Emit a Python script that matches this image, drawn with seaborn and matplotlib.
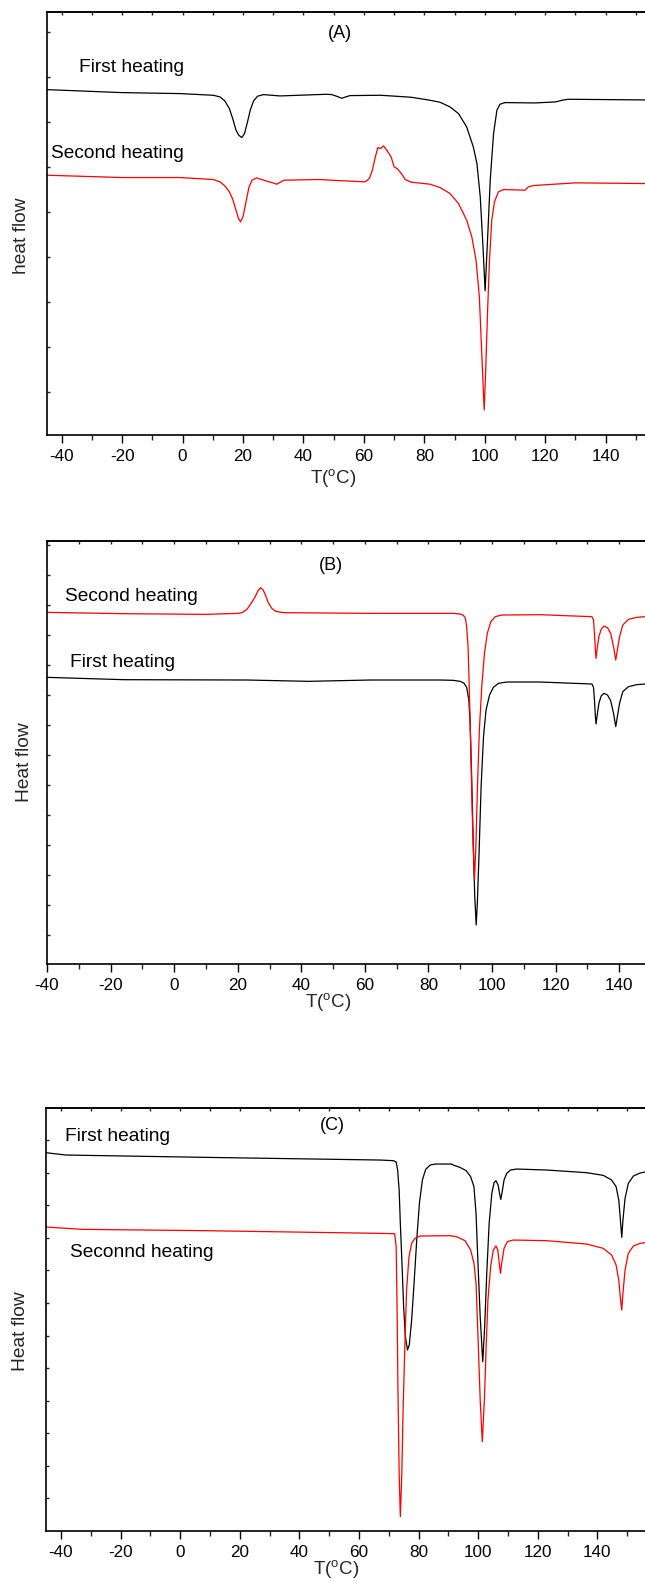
import seaborn as sns
import matplotlib.pyplot as plt
import pandas as pd
from matplotlib.ticker import MultipleLocator, FixedLocator, NullFormatter

# ---- Panel A ----
a_first_t = [-45, -20, -0.8, 10.2, 12.4, 14.0, 15.5, 16.6, 17.7, 18.6, 19.6, 20.5, 21.5, 22.4, 23.5, 24.8,
             26.8, 32.3, 47.7, 49.4, 51.0, 52.7, 54.0, 55.4, 65.4, 69, 75.7, 81.9, 85.2, 88.5, 91.3, 94.0,
             96.2, 97.4, 98.5, 99.4, 100.1, 100.9, 101.8, 102.9, 104.0, 105.0, 106.7, 116.6, 123.4, 125.5,
             127.5, 153]
a_first_hf = [103.7, 102.8, 102.5, 102.0, 101.5, 100.3, 98.0, 95.0, 91.5, 90.0, 89.3, 90.5, 94.0, 97.5, 100.3, 101.7,
              102.2, 101.8, 102.3, 102.2, 101.7, 101.1, 101.5, 101.9, 102.0, 101.8, 101.4, 100.5, 99.9, 98.5, 96.5, 92.5,
              86.5, 81.5, 71.5, 56.5, 43.3, 58.5, 76.5, 90.5, 97.5, 99.3, 99.8, 99.7, 100.0, 100.5,
              100.8, 100.6]
a_second_t = [-45, -20, -0.8, 10.2, 12.4, 14.0, 15.5, 16.6, 17.7, 18.5, 19.2, 20.0, 21.0, 22.0, 23.0, 24.5,
              26.5, 29.5, 31.2, 33.5, 45, 60.4, 61.8, 62.8, 63.8, 64.6, 65.5, 66.5, 67.6, 69, 70, 71, 72.4,
              73.7, 75.7, 81.9, 85.2, 88.5, 91.3, 94.0, 95.7, 97.1, 98.2, 98.9, 99.8, 100.3, 100.9, 101.5,
              102.3, 103.2, 104.5, 106.2, 113.3, 114.4, 116.1, 130, 153]
a_second_hf = [78.0, 77.3, 77.3, 76.7, 76.0, 74.8, 73.0, 70.8, 67.5, 65.0, 64.0, 65.5, 70.0, 74.5, 76.5, 77.2,
               76.6, 75.8, 75.3, 76.5, 76.7, 76.0, 77.0, 79.5, 83.5, 86.3, 86.0, 86.8, 85.5, 83.5, 80.5, 80.0, 78.5,
               76.7, 75.9, 75.3, 74.3, 72.5, 69.5, 64.5, 59.5, 52.5, 41.5, 26.5, 7.5, 19.5, 36.5, 51.5,
               64.5, 70.0, 73.0, 73.7, 73.5, 74.5, 74.9, 75.7, 75.5]

# ---- Panel B ----
b_first_t = [-40, -15.9, 22.9, 42.3, 61.7, 83.65, 87.8, 90.0, 91.2, 92.0, 92.7, 93.1, 93.6, 94.1, 94.55, 95.0,
             95.4, 95.9, 96.55, 97.3, 98.1, 99.2, 100.4, 102.0, 104.6, 115.1, 131.4, 131.9, 132.2, 132.5,
             132.7, 133.0, 133.6, 134.3, 135.2, 136.3, 137.3, 138.2, 138.9, 139.4, 140.1, 141.1, 142.9,
             145.5, 148.1]
b_first_hf = [86.1, 85.4, 85.3, 84.9, 85.3, 85.3, 85.2, 84.9, 84.3, 83.1, 79.3, 72.3, 55.3, 35.3, 20.3, 11.8,
              19.3, 33.3, 53.3, 68.3, 76.3, 80.8, 83.1, 84.3, 84.7, 84.7, 84.1, 83.1, 79.3, 74.3,
              72.1, 74.3, 78.3, 80.5, 81.3, 80.8, 79.1, 75.3, 71.3, 74.3, 78.3, 81.8, 83.3,
              83.9, 84.1]
b_second_t = [-40, -15.9, 10, 20.3, 21.5, 22.9, 24.2, 25.5, 26.3, 27.2, 28.0, 28.7, 29.6, 30.7, 32.0, 34.5,
              61.7, 83.65, 87.8, 90.0, 91.0, 91.6, 92.0, 92.45, 92.9, 93.4, 93.9, 94.45, 94.9, 95.4, 96.0,
              96.75, 97.6, 98.5, 99.6, 101.0, 103.0, 115.1, 131.4, 131.9, 132.2, 132.5, 132.7, 133.0, 133.6,
              134.3, 135.2, 136.3, 137.3, 138.2, 138.9, 139.4, 140.1, 141.1, 142.9, 145.5, 148.1]
b_second_hf = [105.6, 105.2, 105.0, 105.3, 105.6, 106.5, 108.3, 110.3, 112.0, 113.0, 112.3, 110.8, 108.5, 106.8, 105.9, 105.5,
               105.3, 105.3, 105.3, 105.1, 104.7, 103.8, 101.3, 95.3, 80.3, 60.3, 40.3, 25.3, 35.3, 53.3, 70.3,
               83.3, 93.3, 99.3, 102.8, 104.3, 104.8, 104.9, 104.3, 103.3, 99.3, 94.3, 91.8, 94.3, 98.3,
               100.5, 101.5, 101.0, 99.3, 95.3, 91.3, 94.3, 98.3, 101.8, 103.5, 104.1, 104.3]

# ---- Panel C ----
c_first_t = [-45, -38.3, 8.6, 67.1, 71.6, 72.5, 73.0, 73.5, 73.9, 74.5, 75.0, 75.6, 76.3, 76.9, 77.7, 78.5,
             79.4, 80.3, 81.3, 82.4, 83.9, 85.6, 91.1, 91.9, 93.9, 96.0, 97.5, 98.6, 99.3, 100.0, 100.7,
             101.55, 102.2, 102.9, 103.7, 104.6, 105.35, 106.0, 106.7, 107.3, 107.6, 108.0, 108.7, 109.6,
             110.9, 112.96, 123.0, 136.4, 142.0, 144.8, 146.3, 147.2, 147.75, 148.2, 148.6, 149.3, 150.4,
             152.1, 154.35, 156.0]
c_first_hf = [113.5, 112.8, 112.1, 111.3, 111.1, 110.7, 108.3, 102.3, 92.3, 79.3, 67.3, 58.3, 54.3, 55.8, 63.3, 74.3,
              87.3, 98.3, 105.3, 108.5, 109.8, 110.1, 110.1, 109.7, 109.1, 108.1, 106.3, 103.3, 95.3, 79.3, 64.3,
              50.8, 61.3, 77.3, 92.3, 101.3, 104.5, 105.1, 103.8, 100.8, 99.5, 101.3, 105.3, 107.3,
              108.3, 108.6, 108.3, 107.5, 106.7, 105.3, 103.3, 99.3, 93.3, 88.1, 93.3, 99.8, 104.3,
              106.5, 107.4, 107.7]
c_second_t = [-45, -32.8, 8.6, 67.1, 72.0, 72.5, 72.8, 73.1, 73.5, 73.9, 74.4, 74.8, 75.4, 76.0, 76.8, 77.7,
              78.8, 80.5, 90.6, 92.8, 95.6, 97.5, 98.6, 99.3, 100.0, 100.7, 101.4, 102.1, 102.7, 103.3, 104.2,
              105.1, 106.0, 106.6, 107.1, 107.5, 107.9, 108.7, 109.8, 111.8, 123.0, 136.4, 142.0, 144.8,
              146.3, 147.2, 147.75, 148.2, 148.6, 149.3, 150.4, 152.1, 154.35, 156.0]
c_second_hf = [91.2, 90.5, 90.1, 89.3, 89.2, 85.3, 67.3, 42.3, 17.3, 4.3, 17.3, 35.3, 55.3, 72.3, 82.3, 86.3,
               87.8, 88.5, 88.6, 88.3, 87.1, 84.3, 80.3, 74.3, 57.3, 39.3, 26.8, 39.3, 55.3, 69.3, 79.3,
               84.3, 85.5, 84.3, 80.3, 77.3, 80.3, 84.8, 86.8, 87.3, 87.1, 86.1, 84.8, 82.8,
               79.8, 75.3, 69.8, 66.3, 71.3, 78.3, 83.3, 85.5, 86.3, 86.5]

sns.set_style("ticks")
plt.rcParams['font.family'] = ['Liberation Sans', 'DejaVu Sans']
plt.rcParams['mathtext.fontset'] = 'custom'
plt.rcParams['mathtext.rm'] = 'Liberation Sans'
plt.rcParams['axes.unicode_minus'] = False

W, H = 645, 1582
fig = plt.figure(figsize=(W / 100, H / 100), dpi=100)


def fx(x):
    return x / W


def fy(y):
    return 1 - y / H


def draw_panel(top, bottom, left, xlim, ylim, ytick0, ytick_step, first, second, ylabel,
               ylab_xy, xlab_xy):
    ax = fig.add_axes([fx(left), fy(bottom), 1 - fx(left), (bottom - top) / H])
    df = pd.concat([
        pd.DataFrame({'T': first[0], 'hf': first[1], 'run': 'First heating'}),
        pd.DataFrame({'T': second[0], 'hf': second[1], 'run': 'Second heating'}),
    ])
    sns.lineplot(data=df, x='T', y='hf', hue='run', palette=['#000000', '#ff0000'],
                 estimator=None, sort=False, linewidth=0.9, legend=False, ax=ax)
    ax.set_xlim(*xlim)
    ax.set_ylim(*ylim)
    for s in ['left', 'bottom', 'top']:
        ax.spines[s].set_linewidth(1.2)
        ax.spines[s].set_color('black')
    ax.spines['right'].set_visible(False)

    ax.xaxis.set_major_locator(MultipleLocator(20))
    ax.xaxis.set_minor_locator(MultipleLocator(10))
    ax.tick_params(axis='x', which='major', direction='out', length=6, width=1.0, pad=4.0,
                   labelsize=12.3, colors='black')
    ax.tick_params(axis='x', which='minor', direction='out', length=3.6, width=1.0)
    yt = [ytick0 + ytick_step * k for k in range(20) if ytick0 + ytick_step * k < ylim[1] - 1]
    ax.yaxis.set_major_locator(FixedLocator(yt))
    ax.yaxis.set_major_formatter(NullFormatter())
    ax.tick_params(axis='y', which='major', direction='in', length=2.5, width=1.0)

    sec = ax.secondary_xaxis('top')
    sec.xaxis.set_major_locator(MultipleLocator(10))
    sec.xaxis.set_major_formatter(NullFormatter())
    sec.tick_params(direction='in', length=2.5, width=1.0)
    sec.spines['top'].set_linewidth(1.2)

    ax.set_xlabel(r'T($^{\rm o}$C)', fontsize=13.5)
    ax.xaxis.label.set_va('center')
    ax.xaxis.set_label_coords(*xlab_xy)
    ax.set_ylabel(ylabel, fontsize=13.8)
    ax.yaxis.label.set_va('center')
    ax.yaxis.set_label_coords(*ylab_xy)
    return ax


draw_panel(12, 435, 46.5, (-45, 153), (0, 127), 13.0, 13.5,
           (a_first_t, a_first_hf), (a_second_t, a_second_hf), 'heat flow',
           (-0.042, 0.47), (0.479, -0.104))
draw_panel(540.7, 964.3, 47, (-40, 148.1), (0, 127.1), 8.8, 9.0,
           (b_first_t, b_first_hf), (b_second_t, b_second_hf), 'Heat flow',
           (-0.037, 0.478), (0.470, -0.091))
draw_panel(1107.7, 1531, 46, (-45, 156), (0, 127), 9.8, 9.77,
           (c_first_t, c_first_hf), (c_second_t, c_second_hf), 'Heat flow',
           (-0.043, 0.471), (0.484, -0.092))

labels = [
    ('(A)', 340, 33, 'center'), ('First heating', 79.4, 67, 'left'), ('Second heating', 50.6, 154, 'left'),
    ('(B)', 330.7, 565, 'center'), ('Second heating', 64.6, 596.5, 'left'), ('First heating', 70, 662.8, 'left'),
    ('(C)', 332.8, 1125.7, 'center'), ('First heating', 65, 1136.3, 'left'),
    ('Seconnd heating', 70, 1252.8, 'left'),
]
for txt, x, y, ha in labels:
    size = 13 if txt.startswith('(') else 13.8
    fig.text(fx(x), fy(y), txt, ha=ha, va='center', fontsize=size, color='black')

fig.savefig('out.png', dpi=100)
